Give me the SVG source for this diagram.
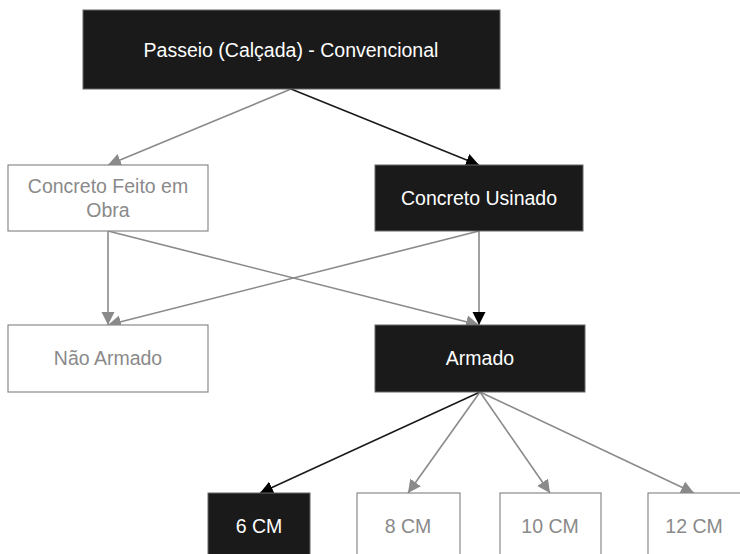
<svg xmlns="http://www.w3.org/2000/svg" width="740" height="554" viewBox="0 0 740 554">
<style>
.dark rect{fill:#1a1a1a;stroke:#666;stroke-width:1}
.light rect{fill:#fff;stroke:#8a8a8a;stroke-width:1.2}
text{font-family:"Liberation Sans",Arial,sans-serif;font-size:19.5px;text-anchor:middle}
.dark text{fill:#fff}
.light text{fill:#8a8a8a}
.g{stroke:#8a8a8a;stroke-width:1.6;fill:none}
.k{stroke:#1a1a1a;stroke-width:1.6;fill:none}
</style>
<defs>
<marker id="ag" markerUnits="userSpaceOnUse" markerWidth="14" markerHeight="14" viewBox="0 0 14 14" refX="13" refY="7" orient="auto"><path d="M0,0.5 L13,7 L0,13.5 Z" fill="#8a8a8a"/></marker>
<marker id="ak" markerUnits="userSpaceOnUse" markerWidth="14" markerHeight="14" viewBox="0 0 14 14" refX="13" refY="7" orient="auto"><path d="M0,0.5 L13,7 L0,13.5 Z" fill="#000"/></marker>
</defs>
<g id="connectors">
<line class="g" x1="291" y1="89" x2="108" y2="165" marker-end="url(#ag)"/>
<line class="k" x1="291" y1="89" x2="479" y2="165" marker-end="url(#ak)"/>
<line class="g" x1="108" y1="231" x2="108" y2="325" marker-end="url(#ag)"/>
<line class="g" x1="108" y1="231" x2="479" y2="325" marker-end="url(#ag)"/>
<line class="g" x1="479" y1="231" x2="108" y2="325" marker-end="url(#ag)"/>
<line class="g" x1="479" y1="231" x2="479" y2="325" marker-end="url(#ak)"/>
<line class="k" x1="480" y1="392" x2="260" y2="493" marker-end="url(#ak)"/>
<line class="g" x1="480" y1="392" x2="408" y2="493" marker-end="url(#ag)"/>
<line class="g" x1="480" y1="392" x2="550" y2="493" marker-end="url(#ag)"/>
<line class="g" x1="480" y1="392" x2="694" y2="493" marker-end="url(#ag)"/>
</g>
<g id="n-passeio" class="dark"><rect x="83" y="10" width="417" height="79"/><text x="291" y="56.5">Passeio (Calçada) - Convencional</text></g>
<g id="n-feito" class="light"><rect x="8" y="165" width="200" height="66"/><text x="108" y="193">Concreto Feito em</text><text x="108" y="217">Obra</text></g>
<g id="n-usinado" class="dark"><rect x="375" y="165" width="208" height="66"/><text x="479" y="205">Concreto Usinado</text></g>
<g id="n-naoarmado" class="light"><rect x="8" y="325" width="200" height="67"/><text x="108" y="365">Não Armado</text></g>
<g id="n-armado" class="dark"><rect x="375" y="325" width="210" height="67"/><text x="480" y="365">Armado</text></g>
<g id="n-6cm" class="dark"><rect x="208" y="493" width="102" height="67"/><text x="259" y="533">6 CM</text></g>
<g id="n-8cm" class="light"><rect x="357" y="493" width="103" height="67"/><text x="408" y="533">8 CM</text></g>
<g id="n-10cm" class="light"><rect x="500" y="493" width="101" height="67"/><text x="550" y="533">10 CM</text></g>
<g id="n-12cm" class="light"><rect x="648" y="493" width="100" height="67"/><text x="694" y="533">12 CM</text></g>
</svg>
